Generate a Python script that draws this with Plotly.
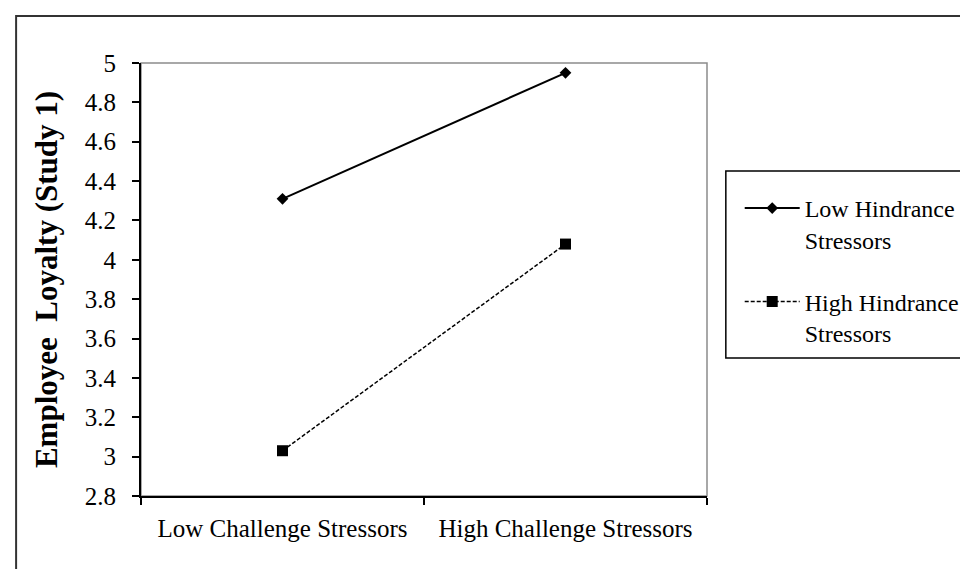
import plotly.graph_objects as go

categories = ["Low Challenge Stressors", "High Challenge Stressors"]
low_hindrance = [4.31, 4.95]
high_hindrance = [3.03, 4.08]
series_names = ["Low Hindrance<br>Stressors", "High Hindrance<br>Stressors"]
y_tick_values = [2.8, 3.0, 3.2, 3.4, 3.6, 3.8, 4.0, 4.2, 4.4, 4.6, 4.8, 5.0]
y_tick_labels = ["2.8", "3", "3.2", "3.4", "3.6", "3.8", "4", "4.2", "4.4", "4.6", "4.8", "5"]
y_title = "Employee\u00a0 Loyalty (Study 1)"

FONT = "Liberation Serif, Times New Roman, serif"

fig = go.Figure()
fig.add_trace(go.Scatter(
    x=categories, y=low_hindrance, name=series_names[0], mode="lines+markers",
    line=dict(color="black", width=2),
    marker=dict(symbol="diamond", size=9, color="black"),
    legendgroup="a",
))
fig.add_trace(go.Scatter(
    x=categories, y=high_hindrance, name=series_names[1], mode="lines+markers",
    line=dict(color="black", width=1.5, dash="4px,2px"),
    marker=dict(symbol="square", size=11, color="black"),
    legendgroup="b",
))

W, H = 968, 569
L, R, T, B = 133, 264, 55, 81
pw = W - L - R
ph = H - T - B

def px_x(px):
    return (px - L) / pw

def px_y(py):
    return (H - B - py) / ph

fig.update_layout(
    width=W, height=H,
    margin=dict(l=L, r=R, t=T, b=B),
    paper_bgcolor="white", plot_bgcolor="white",
    font=dict(family=FONT, color="black", size=25),
    showlegend=True,
    legend=dict(
        x=px_x(737), xanchor="left", y=px_y(178), yanchor="top",
        font=dict(family=FONT, size=24, color="black"),
        bgcolor="rgba(0,0,0,0)", borderwidth=0,
        valign="top", tracegroupgap=28, itemwidth=55,
    ),
    xaxis=dict(
        type="category", range=[-0.5, 1.5],
        showline=True, linecolor="black", linewidth=2,
        ticks="outside", tickson="boundaries", ticklen=7, tickwidth=2, tickcolor="black",
        showgrid=False, zeroline=False,
        tickfont=dict(family=FONT, size=25, color="black"),
        ticklabelstandoff=9,
    ),
    yaxis=dict(
        range=[2.8, 5.0], tickvals=y_tick_values, ticktext=y_tick_labels,
        showline=True, linecolor="black", linewidth=2,
        ticks="outside", ticklen=7, tickwidth=2, tickcolor="black",
        showgrid=False, zeroline=False,
        tickfont=dict(family=FONT, size=25, color="black"),
        ticklabelstandoff=11,
        title=dict(text="<b>" + y_title + "</b>",
                   font=dict(family=FONT, size=31, color="black"), standoff=18),
    ),
    shapes=[
        dict(type="rect", xref="paper", yref="paper", x0=0, y0=0, x1=1, y1=1,
             line=dict(color="#8c8c8c", width=1.5), layer="below"),
        dict(type="rect", xref="paper", yref="paper",
             x0=px_x(723), x1=px_x(990), y0=px_y(350), y1=px_y(163),
             line=dict(color="black", width=1.5)),
        dict(type="rect", xref="paper", yref="paper",
             x0=px_x(7), x1=px_x(1000), y0=px_y(600), y1=px_y(8),
             line=dict(color="#333333", width=2)),
    ],
)

fig.write_html("out.html")
